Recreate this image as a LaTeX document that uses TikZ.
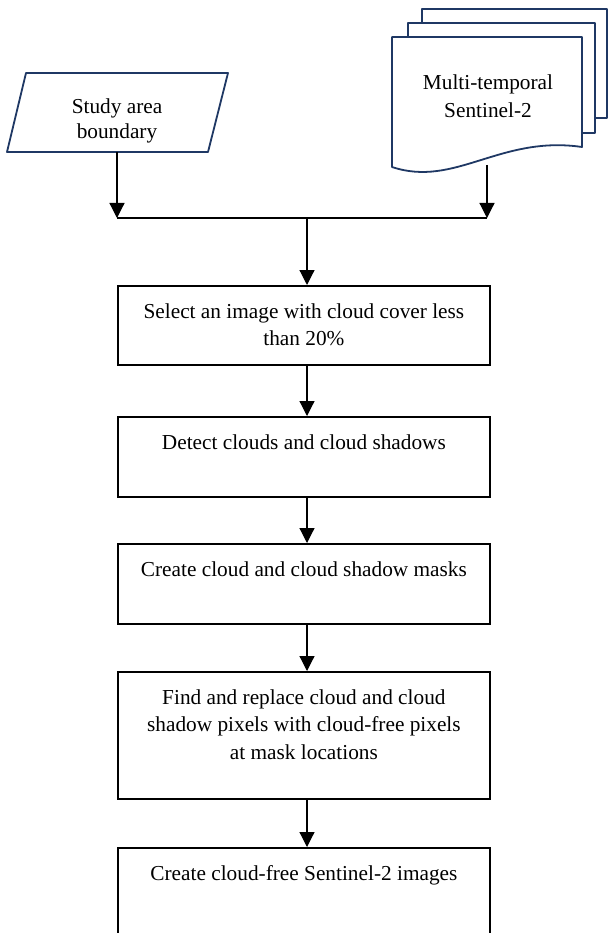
\documentclass[tikz,border=0pt]{standalone}
\usepackage{fontspec}
\setmainfont{Liberation Serif}
\usetikzlibrary{arrows.meta,calc}
\definecolor{navy}{RGB}{31,56,100}
\newcommand\boxtext[2]{\parbox[t][#1][t]{372pt}{\centering\rule{0pt}{32.5pt}#2}}
\begin{document}
\begin{tikzpicture}[x=1pt,y=-1pt,
  stepbox/.style={draw=black, line width=1.8pt, inner sep=0pt, anchor=north west, font=\fontsize{21.3}{27.5}\selectfont},
  arr/.style={line width=1.2pt, -{Triangle[length=15pt,width=15pt]}},
  inshape/.style={draw=navy, line width=1.8pt, fill=white, line join=round},
  lbl/.style={align=center, inner sep=0pt, font=\fontsize{21.3}{27.5}\selectfont}
]
\useasboundingbox (0,0) rectangle (609,933);
\clip (0,0) rectangle (609,933);
% input: parallelogram
\draw[inshape] (26,73) -- (228,73) -- (208,152) -- (7,152) -- cycle;
\node[lbl, font=\fontsize{21.3}{25}\selectfont] (sab) at (117,121) {Study area\\boundary};
\coordinate (sabb) at (117,152);
% input: multi-document
\draw[inshape] (422,9) rectangle (607,118);
\draw[inshape] (408,23) rectangle (595,133);
\draw[inshape] (392,37) -- (582,37) -- (582,147) .. controls (500,135) and (455,188) .. (392,167) -- cycle;
\node[lbl] (mts) at (488,96) {Multi-temporal\\Sentinel-2};
\coordinate (mtsb) at (487,165);
% junction
\coordinate (jl) at (117,218);
\coordinate (jr) at (487,218);
\coordinate (jc) at (307,218);
\draw[arr] (sabb) -- (jl);
\draw[arr] (mtsb) -- (jr);
\draw[line width=1.2pt] (jl) -- (jr);
% process boxes
\node[stepbox] (b1) at (117,285) {\boxtext{79pt}{Select an image with cloud cover less\\than 20\%}};
\node[stepbox] (b2) at (117,416) {\boxtext{80pt}{Detect clouds and cloud shadows}};
\node[stepbox] (b3) at (117,543) {\boxtext{80pt}{Create cloud and cloud shadow masks}};
\node[stepbox] (b4) at (117,671) {\boxtext{127pt}{Find and replace cloud and cloud\\shadow pixels with cloud-free pixels\\at mask locations}};
\node[stepbox] (b5) at (117,847) {\boxtext{110pt}{Create cloud-free Sentinel-2 images}};
% connectors
\draw[arr] (jc) -- (jc |- b1.north);
\draw[arr] (b1.south -| jc) -- (b2.north -| jc);
\draw[arr] (b2.south -| jc) -- (b3.north -| jc);
\draw[arr] (b3.south -| jc) -- (b4.north -| jc);
\draw[arr] (b4.south -| jc) -- (b5.north -| jc);
\end{tikzpicture}
\end{document}
